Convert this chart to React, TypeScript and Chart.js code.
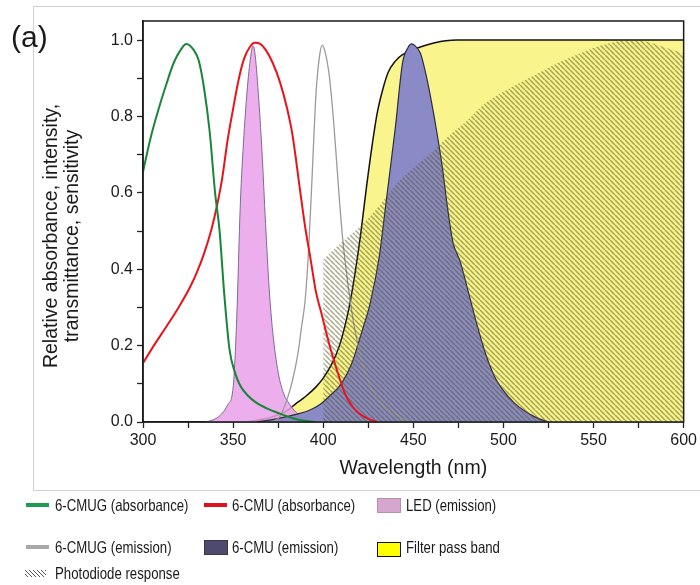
import React, { useEffect, useRef } from 'react';
import { Chart, registerables } from 'chart.js';

Chart.register(...registerables);

// ---------- data (wavelength in nm, relative values) ----------
const cmugAbsWl = [300, 304, 309, 313, 317, 321, 324, 328, 331, 334, 337, 340, 342.5, 345, 348, 351, 354, 358, 363, 369, 376, 383, 390, 396];
const cmugAbsVal = [0.655, 0.74, 0.825, 0.885, 0.94, 0.975, 0.99, 0.975, 0.945, 0.87, 0.76, 0.6, 0.5, 0.34, 0.19, 0.13, 0.095, 0.07, 0.05, 0.035, 0.022, 0.01, 0.003, 0];

const cmuAbsWl = [300, 306, 313, 320, 326, 330, 334, 338, 341, 344, 347, 350, 353, 356, 359, 362, 365, 368, 372, 376, 380, 383, 387, 390, 393, 396, 399, 402, 405, 408, 412, 416, 420, 425, 430];
const cmuAbsVal = [0.154, 0.2, 0.25, 0.302, 0.352, 0.393, 0.443, 0.505, 0.565, 0.64, 0.74, 0.82, 0.895, 0.95, 0.98, 0.993, 0.99, 0.975, 0.94, 0.89, 0.82, 0.75, 0.612, 0.51, 0.426, 0.34, 0.285, 0.228, 0.176, 0.13, 0.075, 0.042, 0.022, 0.008, 0];

const ledWl = [335, 340, 344, 347, 350, 352, 354, 356, 358, 360, 361, 362, 364, 366, 368, 370, 372, 375, 378, 381, 385, 390, 394];
const ledVal = [0, 0.008, 0.023, 0.045, 0.09, 0.27, 0.57, 0.75, 0.88, 0.965, 0.985, 0.97, 0.86, 0.71, 0.52, 0.35, 0.235, 0.13, 0.075, 0.049, 0.025, 0.01, 0];

const cmugEmWl = [372, 376, 380, 383, 386, 388, 390, 392, 394, 396, 398, 399.5, 401, 403, 405, 407, 409, 411, 414, 418, 422, 427, 433, 440, 448];
const cmugEmVal = [0, 0.015, 0.06, 0.11, 0.18, 0.25, 0.32, 0.46, 0.66, 0.86, 0.96, 0.987, 0.97, 0.92, 0.83, 0.71, 0.58, 0.47, 0.35, 0.23, 0.15, 0.085, 0.045, 0.02, 0];

const cmuEmWl = [363, 370, 378, 385, 392, 398, 404, 410, 416, 421, 426, 431, 435, 440, 444, 447, 449, 451, 454, 457, 460, 463, 466, 469, 472, 476, 480, 485, 490, 495, 500, 506, 512, 518, 525];
const cmuEmVal = [0, 0.005, 0.012, 0.02, 0.03, 0.045, 0.07, 0.1, 0.155, 0.23, 0.31, 0.43, 0.58, 0.77, 0.94, 0.98, 0.99, 0.985, 0.965, 0.91, 0.84, 0.76, 0.67, 0.56, 0.47, 0.42, 0.35, 0.26, 0.18, 0.12, 0.082, 0.05, 0.028, 0.012, 0];

const filterWl = [357, 365, 372, 380, 385, 390, 396, 400, 405, 409, 412, 415, 418, 421, 424, 427, 430, 433, 436, 440, 444, 450, 456, 462, 468, 474, 600];
const filterVal = [0, 0.006, 0.014, 0.03, 0.049, 0.066, 0.092, 0.115, 0.154, 0.2, 0.25, 0.315, 0.4, 0.5, 0.615, 0.72, 0.81, 0.87, 0.915, 0.945, 0.962, 0.975, 0.985, 0.993, 0.998, 1.0, 1.0];

const diodeWl = [400, 410, 420, 430, 440, 450, 460, 470, 480, 490, 500, 510, 520, 530, 540, 550, 560, 570, 580, 590, 600];
const diodeVal = [0.425, 0.47, 0.51, 0.56, 0.62, 0.665, 0.705, 0.75, 0.79, 0.835, 0.865, 0.89, 0.915, 0.94, 0.96, 0.98, 0.993, 1.0, 0.995, 0.98, 0.965];

const xTickValues = [300, 325, 350, 375, 400, 425, 450, 475, 500, 525, 550, 575, 600];
const yTickValues = [0, 0.1, 0.2, 0.3, 0.4, 0.5, 0.6, 0.7, 0.8, 0.9, 1.0];

const legendLabels = [
  '6-CMUG (absorbance)',
  '6-CMU (absorbance)',
  'LED (emission)',
  '6-CMUG (emission)',
  '6-CMU (emission)',
  'Filter pass band',
  'Photodiode response',
];

const FONT = "'Liberation Sans', Arial, Helvetica, sans-serif";
const TEXT = '#1a1a1a';

const pts = (xs: number[], ys: number[]) => xs.map((x, i) => ({ x, y: ys[i] }));

export default function App() {
  const ref = useRef<HTMLCanvasElement>(null);

  useEffect(() => {
    const canvas = ref.current!;
    const s = 5;
    const tile = document.createElement('canvas');
    tile.width = s;
    tile.height = s;
    const t = tile.getContext('2d')!;
    t.strokeStyle = 'rgba(85,85,30,0.5)';
    t.lineWidth = 1.5;
    t.beginPath();
    for (const k of [-s, 0, s]) {
      t.moveTo(k, 0);
      t.lineTo(k + s, s);
    }
    t.stroke();
    const pattern = canvas.getContext('2d')!.createPattern(tile, 'repeat')!;

    const framePlugin = {
      id: 'frame',
      afterDatasetsDraw(chart: any) {
        const { ctx, chartArea: a } = chart;
        ctx.save();
        ctx.strokeStyle = '#1a1a1a';
        ctx.lineWidth = 1.5;
        ctx.strokeRect(a.left, a.top, a.right - a.left, a.bottom - a.top);
        ctx.restore();
      },
    };

    const base = { pointRadius: 0, cubicInterpolationMode: 'monotone' as const, borderJoinStyle: 'round' as const };

    const chart = new Chart(canvas, {
      type: 'line',
      data: {
        datasets: [
          { ...base, label: legendLabels[0], data: pts(cmugAbsWl, cmugAbsVal), borderColor: '#17853a', borderWidth: 2, fill: false, order: 0 },
          { ...base, label: legendLabels[1], data: pts(cmuAbsWl, cmuAbsVal), borderColor: '#e8141c', borderWidth: 2, fill: false, order: 1 },
          { ...base, label: legendLabels[6], data: pts(diodeWl, diodeVal), borderColor: 'rgba(0,0,0,0)', borderWidth: 0, backgroundColor: pattern, fill: 'origin', order: 2 },
          { ...base, label: legendLabels[3], data: pts(cmugEmWl, cmugEmVal), borderColor: '#9a9a9a', borderWidth: 1.3, fill: false, order: 3 },
          { ...base, label: legendLabels[4], data: pts(cmuEmWl, cmuEmVal), borderColor: '#2c2c44', borderWidth: 1.2, backgroundColor: '#8a8ac6', fill: 'origin', order: 4 },
          { ...base, label: legendLabels[2], data: pts(ledWl, ledVal), borderColor: '#7d6a92', borderWidth: 1, backgroundColor: 'rgba(234,160,234,0.85)', fill: 'origin', order: 5 },
          { ...base, label: legendLabels[5], data: pts(filterWl, filterVal), borderColor: '#111111', borderWidth: 1.5, backgroundColor: '#f9f58c', fill: 'origin', order: 6 },
        ],
      },
      options: {
        responsive: false,
        animation: false,
        events: [],
        layout: { padding: { left: 0, right: 13, top: 21, bottom: 0 } },
        plugins: { legend: { display: false }, tooltip: { enabled: false } },
        scales: {
          x: {
            type: 'linear',
            min: 300,
            max: 600,
            afterBuildTicks: (sc: any) => {
              sc.ticks = xTickValues.map((v) => ({ value: v }));
            },
            afterFit: (sc: any) => {
              sc.height = 78;
            },
            ticks: {
              autoSkip: false,
              maxRotation: 0,
              padding: 3,
              color: TEXT,
              font: { family: FONT, size: 16 },
              callback: (v: any) => (Number(v) % 50 === 0 ? String(v) : ''),
            },
            grid: { drawOnChartArea: false, drawTicks: true, tickLength: 6, tickColor: '#222', tickWidth: 1.3 },
            border: { color: '#1a1a1a', width: 1.5 },
            title: {
              display: true,
              text: 'Wavelength (nm)',
              color: TEXT,
              font: { family: FONT, size: 19.5 },
              padding: { top: 0, bottom: 20 },
            },
          },
          y: {
            type: 'linear',
            min: 0,
            max: 1.05,
            afterBuildTicks: (sc: any) => {
              sc.ticks = yTickValues.map((v) => ({ value: v }));
            },
            afterFit: (sc: any) => {
              sc.width = 143;
            },
            ticks: {
              autoSkip: false,
              padding: 4,
              color: TEXT,
              font: { family: FONT, size: 16 },
              callback: (v: any) => {
                const n = Number(v);
                return Math.round(n * 10) % 2 === 0 ? n.toFixed(1) : '';
              },
            },
            grid: { drawOnChartArea: false, drawTicks: true, tickLength: 6, tickColor: '#222', tickWidth: 1.3 },
            border: { color: '#1a1a1a', width: 1.5 },
          },
        },
      },
      plugins: [framePlugin],
    } as any);

    return () => chart.destroy();
  }, []);

  const legendText: React.CSSProperties = {
    position: 'absolute',
    fontFamily: FONT,
    fontSize: 16.5,
    color: TEXT,
    whiteSpace: 'nowrap',
    lineHeight: '20px',
    transform: 'scaleX(0.8)',
    transformOrigin: 'left center',
  };
  const lineSwatch = (color: string): React.CSSProperties => ({
    position: 'absolute',
    width: 23,
    height: 4,
    background: color,
  });
  const boxSwatch = (color: string, border: string): React.CSSProperties => ({
    position: 'absolute',
    width: 22,
    height: 13,
    background: color,
    border: `1px solid ${border}`,
  });

  return (
    <div style={{ position: 'absolute', left: 0, top: 0, width: 700, height: 585, overflow: 'hidden', background: '#fff' }}>
      <div
        style={{
          position: 'absolute',
          left: 33,
          top: 6,
          width: 667,
          height: 483,
          borderTop: '1px solid #d2d2d2',
          borderLeft: '1px solid #d2d2d2',
          borderBottom: '1px solid #d2d2d2',
        }}
      />
      <canvas ref={ref} width={700} height={500} style={{ position: 'absolute', left: 0, top: 0, width: 700, height: 500 }} />
      <div style={{ position: 'absolute', left: 11, top: 19, fontFamily: FONT, fontSize: 30, lineHeight: '36px', color: TEXT }}>(a)</div>
      <div
        style={{
          position: 'absolute',
          left: 61,
          top: 236,
          width: 340,
          transform: 'translate(-50%, -50%) rotate(-90deg)',
          textAlign: 'center',
          fontFamily: FONT,
          fontSize: 19.5,
          lineHeight: '21px',
          color: TEXT,
          whiteSpace: 'nowrap',
        }}
      >
        <div>Relative absorbance, intensity,</div>
        <div>transmittance, sensitivity</div>
      </div>

      {/* legend row 1 */}
      <div style={{ ...lineSwatch('#1e9b50'), left: 26, top: 503 }} />
      <div style={{ ...legendText, left: 55, top: 495 }}>{legendLabels[0]}</div>
      <div style={{ ...lineSwatch('#e0101e'), left: 204, top: 503 }} />
      <div style={{ ...legendText, left: 232, top: 495 }}>{legendLabels[1]}</div>
      <div style={{ ...boxSwatch('#d6a6cf', '#b690b0'), left: 377, top: 498 }} />
      <div style={{ ...legendText, left: 406, top: 495 }}>{legendLabels[2]}</div>

      {/* legend row 2 */}
      <div style={{ ...lineSwatch('#a8a8a8'), left: 26, top: 545 }} />
      <div style={{ ...legendText, left: 55, top: 537 }}>{legendLabels[3]}</div>
      <div style={{ ...boxSwatch('#4e4a6c', '#3a3650'), left: 204, top: 540 }} />
      <div style={{ ...legendText, left: 232, top: 537 }}>{legendLabels[4]}</div>
      <div style={{ ...boxSwatch('#ffff00', '#111'), left: 377, top: 542 }} />
      <div style={{ ...legendText, left: 406, top: 537 }}>{legendLabels[5]}</div>

      {/* legend row 3 */}
      <div
        style={{
          position: 'absolute',
          left: 25,
          top: 570,
          width: 21,
          height: 7,
          background: 'repeating-linear-gradient(45deg, #ffffff 0px, #ffffff 1.6px, #555 1.6px, #555 2.8px)',
        }}
      />
      <div style={{ ...legendText, left: 55, top: 563 }}>{legendLabels[6]}</div>
    </div>
  );
}
